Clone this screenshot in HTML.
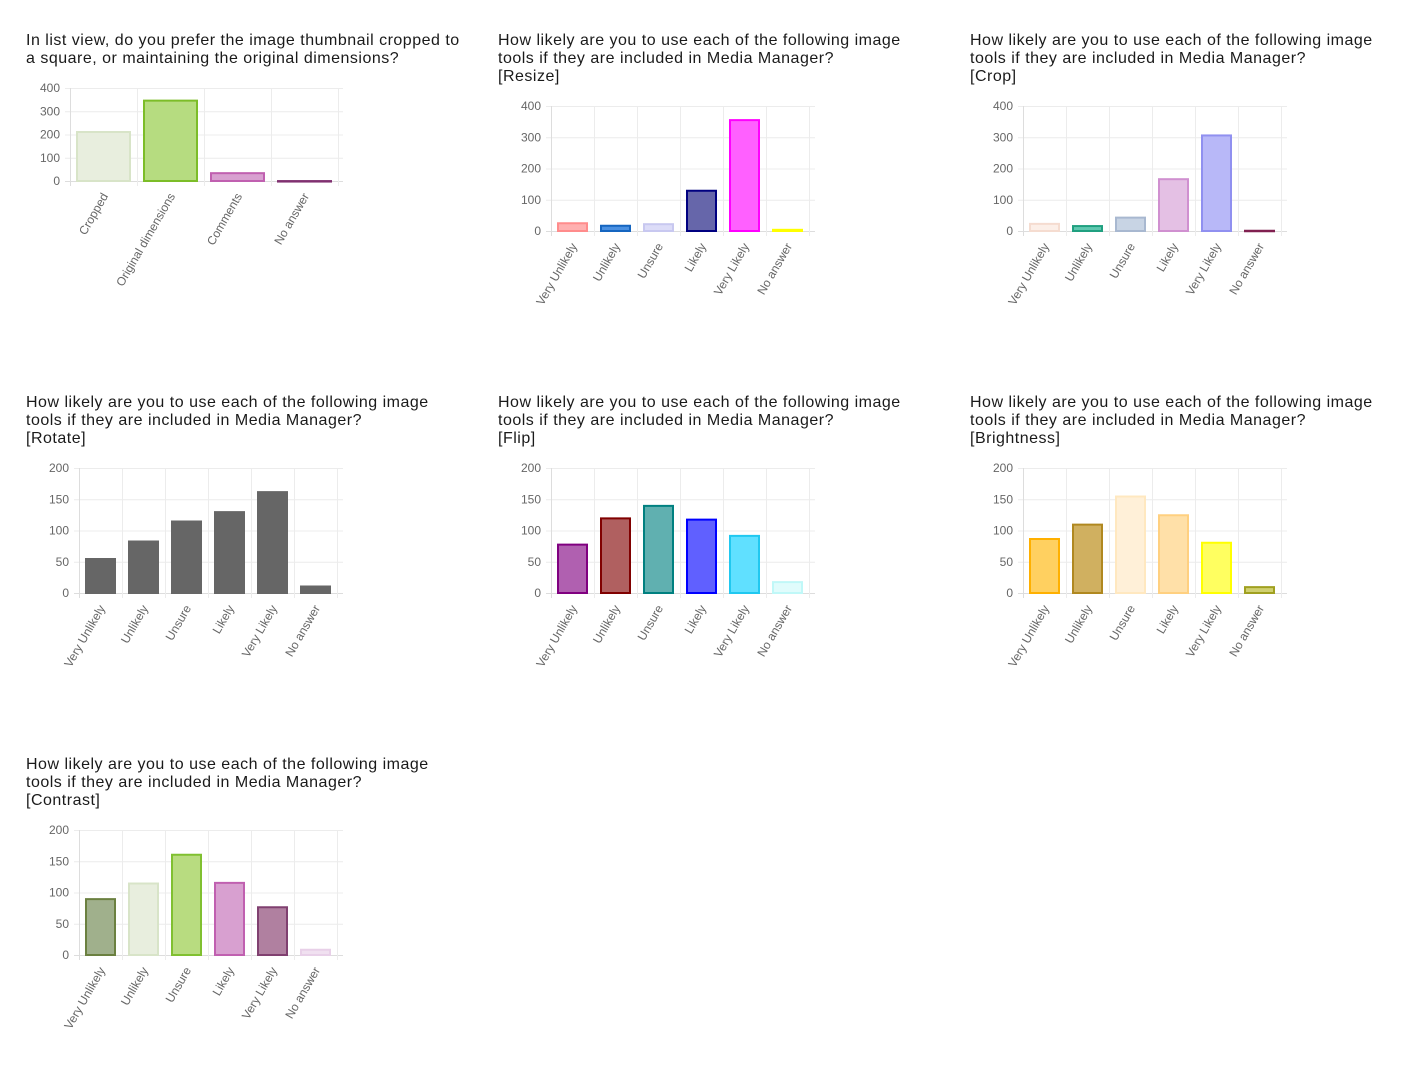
<!DOCTYPE html>
<html><head><meta charset="utf-8">
<style>
html,body{margin:0;padding:0;background:#fff;}
svg{display:block;}
text{font-family:"Liberation Sans",Arial,sans-serif;}
</style></head>
<body>
<svg id="page" width="1407" height="1071" xmlns="http://www.w3.org/2000/svg"></svg>
<script>
const likertCats = ["Very Unlikely","Unlikely","Unsure","Likely","Very Likely","No answer"];
const thumbCats = ["Cropped","Original dimensions","Comments","No answer"];
const thumbValues = [215, 350, 38, 4];
const resizeValues = [28, 20, 25, 132, 358, 7];
const cropValues = [26, 19, 46, 169, 309, 4];
const rotateValues = [56, 84, 116, 131, 163, 12];
const flipValues = [79, 121, 141, 119, 93, 19];
const brightnessValues = [88, 111, 156, 126, 82, 11];
const contrastValues = [91, 116, 162, 117, 78, 10];
const ticks400 = [0, 100, 200, 300, 400];
const ticks200 = [0, 50, 100, 150, 200];

const NS = "http://www.w3.org/2000/svg";
const svg = document.getElementById("page");
function mk(tag, attrs, parent){
  const e = document.createElementNS(NS, tag);
  for (const k in attrs) e.setAttribute(k, attrs[k]);
  (parent||svg).appendChild(e);
  return e;
}

const charts = [
  {name:"thumbnail", ox:0, oy:0, title:["In list view, do you prefer the image thumbnail cropped to","a square, or maintaining the original dimensions?"],
   cats:thumbCats, vals:thumbValues, ticks:ticks400, left:70, top:88, bottom:181, col:67,
   fill:["#e8eede","#b6dc80","#d8a0d0","#a05090"], stroke:["#d8e4c8","#7cbd28","#c060b0","#803070"]},
  {name:"resize", ox:472, oy:0, title:["How likely are you to use each of the following image","tools if they are included in Media Manager?","[Resize]"],
   cats:likertCats, vals:resizeValues, ticks:ticks400, left:79, top:106, bottom:231, col:43,
   fill:["#ffb0b0","#4a90e2","#dcdcf8","#6666aa","#ff60ff","#ffff66"], stroke:["#ff8c8c","#1565c0","#c8c8f0","#000080","#ff00ff","#ffff00"]},
  {name:"crop", ox:944, oy:0, title:["How likely are you to use each of the following image","tools if they are included in Media Manager?","[Crop]"],
   cats:likertCats, vals:cropValues, ticks:ticks400, left:79, top:106, bottom:231, col:43,
   fill:["#fcefe8","#60c8b0","#c8d4e4","#e4c0e4","#b8b8f8","#a04070"], stroke:["#f5dcd0","#20a080","#a8b8d0","#d090d0","#9090f0","#802050"]},
  {name:"rotate", ox:0, oy:362, title:["How likely are you to use each of the following image","tools if they are included in Media Manager?","[Rotate]"],
   cats:likertCats, vals:rotateValues, ticks:ticks200, left:79, top:106, bottom:231, col:43,
   fill:["#666","#666","#666","#666","#666","#666"], stroke:["#666","#666","#666","#666","#666","#666"]},
  {name:"flip", ox:472, oy:362, title:["How likely are you to use each of the following image","tools if they are included in Media Manager?","[Flip]"],
   cats:likertCats, vals:flipValues, ticks:ticks200, left:79, top:106, bottom:231, col:43,
   fill:["#b060b0","#b06060","#60b0b0","#6060ff","#60e0ff","#e0fcfc"], stroke:["#800080","#800000","#008080","#0000ff","#20c8f0","#c0f8f8"]},
  {name:"brightness", ox:944, oy:362, title:["How likely are you to use each of the following image","tools if they are included in Media Manager?","[Brightness]"],
   cats:likertCats, vals:brightnessValues, ticks:ticks200, left:79, top:106, bottom:231, col:43,
   fill:["#ffd060","#d0b060","#fff0d8","#ffe0a8","#ffff60","#d0d070"], stroke:["#ffb000","#b08820","#ffe8c0","#ffd080","#ffff00","#a0a020"]},
  {name:"contrast", ox:0, oy:724, title:["How likely are you to use each of the following image","tools if they are included in Media Manager?","[Contrast]"],
   cats:likertCats, vals:contrastValues, ticks:ticks200, left:79, top:106, bottom:231, col:43,
   fill:["#a0b08c","#e8eede","#b8dc80","#d8a0d0","#b080a0","#f0e0f0"], stroke:["#6b8040","#d8e4c8","#80c030","#c060b0","#804070","#e8d0e8"]}
];

charts.forEach(c => {
  const g = mk("g", {transform:`translate(${c.ox},${c.oy})`});
  
  
  const t = mk("text", {x:26, y:45, "font-size":16, fill:"#1a1a1a", "letter-spacing":"0.5"}, g);
  
  
  c.title.forEach((line,i) => {
    const ts = mk("tspan", {x:26, y:45 + i*18}, t);
    ts.textContent = line;
  });
  const maxV = c.ticks[c.ticks.length-1];
  const y = v => c.bottom - (v / maxV) * (c.bottom - c.top);
  const right = 343;
  const xAt = i => c.left + i * c.col;
  c.ticks.forEach(tv => {
    const gl = mk("line", {x1:c.left-5, x2:right, y1:y(tv)+0.5, y2:y(tv)+0.5, stroke: tv===0?"#ddd":"#ececec", "stroke-width":1}, g);
    
    
    const lb = mk("text", {x:c.left-10, y:y(tv)+4, "font-size":12, fill:"#666", "text-anchor":"end"}, g);
    
    
    lb.textContent = tv;
  });
  for (let i=0;i<=c.cats.length;i++){
    const vl = mk("line", {x1:xAt(i)+0.5, x2:xAt(i)+0.5, y1:c.top, y2:c.bottom+5, stroke: i===0?"#ddd":"#ececec"}, g);
    
    
  }
  c.vals.forEach((v,i) => {
    const x0 = xAt(i)+6, w = c.col-12;
    const yt = y(v);
    const r = mk("rect", {x:x0+1, y:yt+1, width:w-2, height:Math.max(c.bottom-yt-1,0.5), fill:c.fill[i], stroke:c.stroke[i], "stroke-width":2}, g);
    
    
    const cx = xAt(i) + c.col/2 + 5, cy = c.bottom + 15;
    const lb = mk("text", {x:cx, y:cy, "font-size":12, fill:"#666", "text-anchor":"end", transform:`rotate(-60 ${cx} ${cy})`}, g);
    
    
    lb.textContent = c.cats[i];
  });
});
</script>
</body></html>
